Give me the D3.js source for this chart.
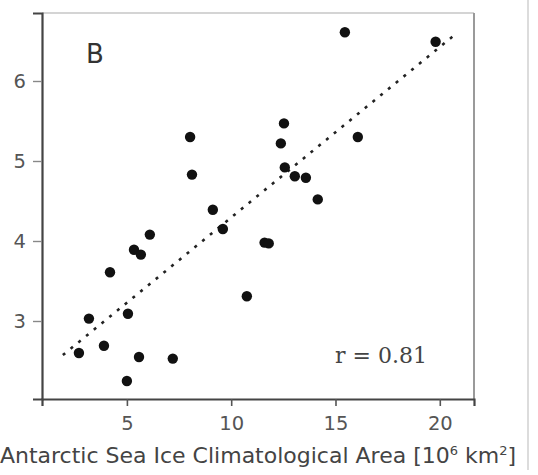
<!DOCTYPE html>
<html lang="en">
<head>
  <meta charset="UTF-8">
  <title>Sea ice scatter B</title>
  <script src="https://cdn.jsdelivr.net/npm/d3@7"></script>
  <style>
    body { margin: 0; background: #fff; }
    svg { display: block; }
  </style>
</head>
<body>
<script>
  // values
  const areaX = [6.1, 5.34, 5.67, 4.19, 3.18, 5.05, 2.7, 3.9, 5.58, 7.2, 5.0,
    8.03, 8.12, 12.53, 12.38, 12.57, 13.05, 13.58, 14.15, 9.12, 9.6, 11.6, 11.8,
    10.75, 15.45, 19.8, 16.07];
  const valueY = [4.08, 3.89, 3.83, 3.61, 3.03, 3.09, 2.6, 2.69, 2.55, 2.53, 2.25,
    5.3, 4.83, 5.47, 5.22, 4.92, 4.81, 4.79, 4.52, 4.39, 4.15, 3.98, 3.97,
    3.31, 6.61, 6.49, 5.3];
  const fitRange = [1.93, 20.6];
  const xTicks = [5, 10, 15, 20];
  const yTicks = [3, 4, 5, 6];
  const panelLabel = 'B';
  const corrLabel = 'r = 0.81';

  const width = 538;
  const height = 475;
  const margin = {top: 13, right: 64, bottom: 76, left: 42};

  const x = d3.scaleLinear()
    .domain([0.93, 21.64])
    .range([margin.left, width - margin.right]);
  const y = d3.scaleLinear()
    .domain([2.025, 6.85])
    .range([height - margin.bottom, margin.top]);

  const svg = d3.select('body').append('svg').attr('width', width).attr('height', height);

  // least squares fit
  const mx = d3.mean(areaX), my = d3.mean(valueY);
  let sxy = 0, sxx = 0;
  areaX.forEach((v, i) => { sxy += (v - mx) * (valueY[i] - my); sxx += (v - mx) * (v - mx); });
  const slope = sxy / sxx;
  const icpt = my - slope * mx;

  // frame
  svg.append('line').attr('x1', margin.left).attr('x2', width - margin.right)
    .attr('y1', margin.top).attr('y2', margin.top)
    .attr('stroke', '#d4d4d4').attr('stroke-width', 2);
  svg.append('line').attr('x1', width - margin.right).attr('x2', width - margin.right)
    .attr('y1', margin.top).attr('y2', height - margin.bottom)
    .attr('stroke', '#9a9a9a').attr('stroke-width', 2);

  // edge of next panel
  svg.append('line').attr('x1', 528).attr('x2', 528).attr('y1', 0).attr('y2', 470)
    .attr('stroke', '#d0d0d0').attr('stroke-width', 1.5);

  const xAxis = g => g
    .attr('transform', `translate(0,${height - margin.bottom})`)
    .call(d3.axisBottom(x).tickValues(xTicks).tickFormat(d3.format('d')).tickSize(7).tickPadding(10))
    .call(g => g.select('.domain').attr('stroke', '#444').attr('stroke-width', 2.2))
    .call(g => g.selectAll('.tick line').attr('stroke', '#555').attr('stroke-width', 1.6))
    .call(g => g.selectAll('text').attr('fill', '#555')
      .style('font-family', 'DejaVu Sans').style('font-size', '19.5px'));

  const yAxis = g => g
    .attr('transform', `translate(${margin.left},0)`)
    .call(d3.axisLeft(y).tickValues(yTicks).tickFormat(d3.format('d')).tickSize(9).tickPadding(7))
    .call(g => g.select('.domain').attr('stroke', '#444').attr('stroke-width', 2.2))
    .call(g => g.selectAll('.tick line').attr('stroke', '#888').attr('stroke-width', 1.4))
    .call(g => g.selectAll('text').attr('fill', '#555')
      .style('font-family', 'DejaVu Sans').style('font-size', '19.5px'));

  svg.append('g').call(xAxis);
  svg.append('g').call(yAxis);

  // x label
  const xl = svg.append('text')
    .attr('x', (margin.left + width - margin.right) / 2)
    .attr('y', 463)
    .attr('text-anchor', 'middle')
    .attr('fill', '#444')
    .style('font-family', 'DejaVu Sans')
    .style('font-size', '22px')
    .text('Antarctic Sea Ice Climatological Area [10');
  xl.append('tspan').attr('dy', -8).style('font-size', '13px').text('6');
  xl.append('tspan').attr('dy', 8).text(' km');
  xl.append('tspan').attr('dy', -8).style('font-size', '13px').text('2');
  xl.append('tspan').attr('dy', 8).text(']');

  // fit line
  svg.append('line')
    .attr('x1', x(fitRange[0])).attr('y1', y(icpt + slope * fitRange[0]))
    .attr('x2', x(fitRange[1])).attr('y2', y(icpt + slope * fitRange[1]))
    .attr('stroke', '#222').attr('stroke-width', 2.6)
    .attr('stroke-dasharray', '3,7');

  // points
  svg.append('g').selectAll('circle')
    .data(areaX.map((v, i) => [v, valueY[i]]))
    .join('circle')
    .attr('cx', d => x(d[0]))
    .attr('cy', d => y(d[1]))
    .attr('r', 5.2)
    .attr('fill', '#111');

  // labels
  svg.append('text')
    .attr('x', 86).attr('y', 63)
    .attr('fill', '#333')
    .style('font-family', 'DejaVu Sans')
    .style('font-size', '26px')
    .text(panelLabel);

  svg.append('text')
    .attr('x', 335).attr('y', 363)
    .attr('fill', '#444')
    .style('font-family', 'DejaVu Serif')
    .style('font-size', '22px')
    .text(corrLabel);
</script>
</body>
</html>
